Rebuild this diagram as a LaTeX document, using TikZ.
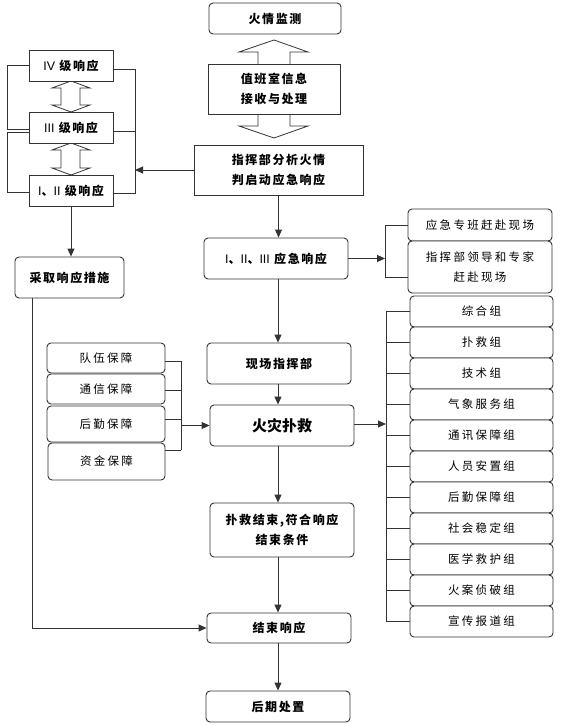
\documentclass[tikz,border=0pt]{standalone}
\usepackage{fontspec}
\setmainfont{Noto Sans CJK SC}
\newfontfamily\cjkwide[LetterSpace=13]{Noto Sans CJK SC}
\newfontfamily\cjkwider[LetterSpace=20]{Noto Sans CJK SC}
\newfontfamily\numfont{Liberation Sans}
\usetikzlibrary{arrows.meta}

\newcommand\flowtextstyle{\fontsize{12}{20}\selectfont\cjkwide\bfseries}
\newcommand\bigtextstyle{\fontsize{15}{20}\selectfont\bfseries}
\newcommand\sidetextstyle{\fontsize{11.5}{20}\selectfont\cjkwider}
\newcommand\lvnum[1]{{\numfont\mdseries\fontsize{12.5}{20}\selectfont #1}}
\newcommand\grouprow{311.5}

\tikzset{
  flowbox/.style={draw=black!80, line width=0.9pt, fill=white, rounded corners=4pt,
    align=center, inner sep=0pt, font=\flowtextstyle},
  sharpbox/.style={flowbox, rounded corners=0pt},
  sidebox/.style={flowbox, font=\sidetextstyle},
  link/.style={draw=black!80, line width=0.9pt},
  arr/.style={link, -{Triangle[length=8pt,width=7pt]}},
  hollow/.style={draw=black!80, line width=0.8pt, fill=white, line join=miter}
}

\begin{document}
\begin{tikzpicture}[x=1pt, y=-1pt]
  \useasboundingbox (0,0) rectangle (569,725);

  \draw[hollow] (258,65) -- (258,52) -- (239,52) -- (274,40) -- (308,52) -- (290,52) -- (290,65);
  \draw[hollow] (258,113) -- (258,126) -- (239,126) -- (274,138) -- (308,126) -- (290,126) -- (290,113);
  \draw[hollow] (71,81) -- (90,88) -- (80,88) -- (80,105) -- (90,105) -- (71,112) -- (52,105)
    -- (61,105) -- (61,88) -- (52,88) -- cycle;
  \draw[hollow] (71,143) -- (90,150) -- (80,150) -- (80,168) -- (90,168) -- (71,175) -- (52,168)
    -- (61,168) -- (61,150) -- (52,150) -- cycle;

  \node[flowbox, minimum width=132pt, minimum height=31pt] (monitor) at (275,18.5) {火情监测};
  \node[sharpbox, minimum width=132pt, minimum height=50pt] (duty) at (274,89) {值班室信息\\接收与处理};
  \node[sharpbox, minimum width=169pt, minimum height=50pt] (analyse) at (278.5,170) {指挥部分析火情\\判启动应急响应};

  \node[sharpbox, minimum width=84pt, minimum height=31pt] (lvfour) at (71,65.5) {\lvnum{IV} 级响应};
  \node[sharpbox, minimum width=84pt, minimum height=31pt] (lvthree) at (71,127.5) {\lvnum{III} 级响应};
  \node[sharpbox, minimum width=84pt, minimum height=31pt] (lvone) at (71,190.5) {\lvnum{I}、\lvnum{II} 级响应};
  \node[flowbox, minimum width=109pt, minimum height=41pt] (measures) at (69.5,277.5) {采取响应措施};

  \node[flowbox, minimum width=144pt, minimum height=41pt] (respond) at (276,258.5) {\lvnum{I}、\lvnum{II}、\lvnum{III} 应急响应};
  \node[flowbox, minimum width=144pt, minimum height=41pt] (site) at (279,363.5) {现场指挥部};
  \node[flowbox, minimum width=144pt, minimum height=41pt, font=\bigtextstyle] (fight) at (282,425.5) {火灾扑救};
  \node[flowbox, minimum width=144pt, minimum height=54pt] (finish) at (282,530) {扑救结束,符合响应\\结束条件};
  \node[flowbox, minimum width=144pt, minimum height=30pt] (close) at (279,628) {结束响应};
  \node[flowbox, minimum width=144pt, minimum height=31pt] (after) at (278,706.5) {后期处置};

  \node[sidebox, minimum width=118pt, minimum height=30pt] (team) at (106,358) {队伍保障};
  \node[sidebox, minimum width=118pt, minimum height=30pt] (comm) at (106,389) {通信保障};
  \node[sidebox, minimum width=118pt, minimum height=36pt] (supply) at (106,424) {后勤保障};
  \node[sidebox, minimum width=117pt, minimum height=37pt] (fund) at (106.5,461.5) {资金保障};

  \node[sidebox, minimum width=144pt, minimum height=32pt] (squad) at (480,225) {应急专班赶赴现场};
  \node[sidebox, minimum width=144pt, minimum height=52pt] (leader) at (480,267) {指挥部领导和专家\\赶赴现场};

  \foreach \name [count=\i from 0] in {综合组, 扑救组, 技术组, 气象服务组, 通讯保障组, 人员安置组,
      后勤保障组, 社会稳定组, 医学救护组, 火案侦破组, 宣传报道组} {
    \node[sidebox, minimum width=143pt, minimum height=31pt] (group\i) at (481.5,\grouprow+31*\i) {\name};
  }

  \coordinate (leftrail) at (7,0);
  \coordinate (rightrail) at (135,0);
  \coordinate (backrail) at (32,0);
  \coordinate (aidrail) at (181,0);
  \coordinate (orderrail) at (385,0);
  \coordinate (grouprail) at (386,0);

  \draw[link] (lvfour.west) -- (lvfour.west -| leftrail) |- ([yshift=-1.5pt]lvthree.west);
  \draw[link] ([yshift=-4.5pt]lvthree.west) -- ([yshift=-4.5pt]lvthree.west -| leftrail) |- ([yshift=-1.5pt]lvone.west);
  \draw[link] ([yshift=-3.5pt]lvfour.east) -- ([yshift=-3.5pt]lvfour.east -| rightrail) |- ([yshift=-3.5pt]lvthree.east);
  \draw[link] ([yshift=-3.5pt]lvthree.east) -- ([yshift=-3.5pt]lvthree.east -| rightrail) |- ([yshift=-2.5pt]lvone.east);
  \draw[arr] (analyse.west) -- (analyse.west -| rightrail);

  \draw[arr] (analyse.south) -- (analyse.south |- respond.north);
  \draw[arr] ([xshift=2pt]respond.south) -- ([xshift=2pt]respond.south |- site.north);
  \draw[arr] ([xshift=-1pt]site.south) -- ([xshift=-1pt]site.south |- fight.north);
  \draw[arr] ([xshift=-4pt]fight.south) -- ([xshift=-4pt]fight.south |- finish.north);
  \draw[arr] ([xshift=-4pt]finish.south) -- ([xshift=-4pt]finish.south |- close.north);
  \draw[arr] ([xshift=-1pt]close.south) -- ([xshift=-1pt]close.south |- after.north);

  \draw[arr] (lvone.south) -- (lvone.south |- measures.north);
  \draw[arr] (measures.south -| backrail) |- (close.west);

  \foreach \src/\dy in {team/-3, comm/-1, supply/5, fund/11.5}
    \draw[link] ([yshift=\dy pt]\src.east) -- ([yshift=\dy pt]\src.east -| aidrail);
  \draw[link] ([yshift=-3pt]team.east -| aidrail) -- ([yshift=11.5pt]fund.east -| aidrail);
  \draw[arr] (fight.west -| aidrail) -- (fight.west);

  \draw[arr] (respond.east) -- (respond.east -| orderrail);
  \draw[link] (squad.west) -- (squad.west -| orderrail) |- ([yshift=-10pt]leader.west);

  \foreach \i in {0,...,10}
    \draw[link] (group\i.west) -- (group\i.west -| grouprail);
  \draw[link] (group0.west -| grouprail) -- (group10.west -| grouprail);
  \draw[arr] ([yshift=1.5pt]fight.east) -- ([yshift=1.5pt]fight.east -| grouprail);
\end{tikzpicture}
\end{document}
